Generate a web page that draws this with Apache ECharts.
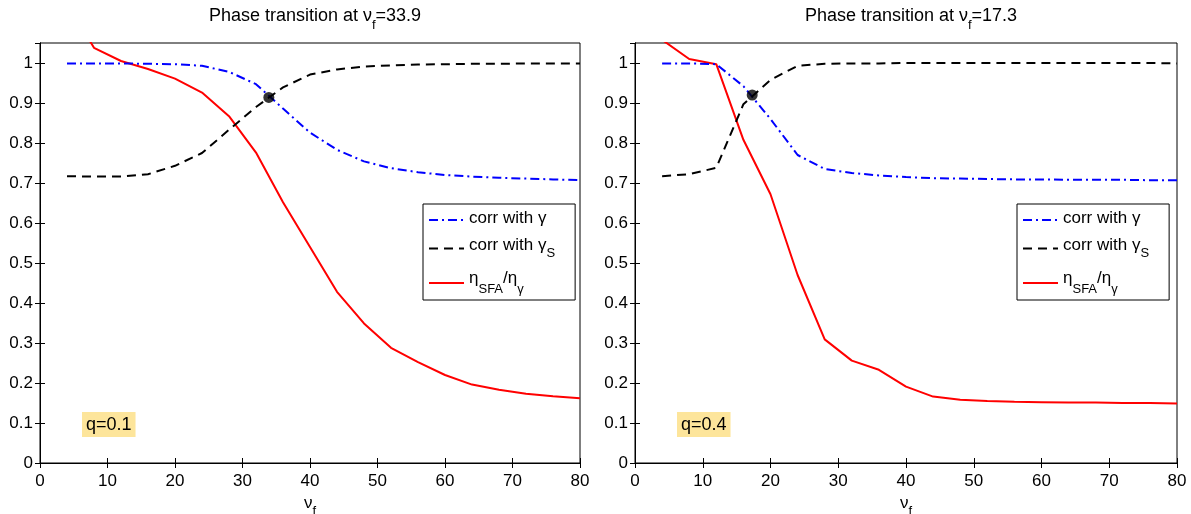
<!DOCTYPE html>
<html>
<head>
<meta charset="utf-8">
<script src="https://cdn.jsdelivr.net/npm/echarts@6/dist/echarts.min.js"></script>
<style>
  html, body { margin: 0; padding: 0; background: #fff; }
  #myChart { width: 1191px; height: 514px; }
</style>
</head>
<body>
<div id="myChart"></div>
<script>
// x values (nu_f)
var nuF = [4, 8, 12, 16, 20, 24, 28, 32, 36, 40, 44, 48, 52, 56, 60, 64, 68, 72, 76, 80];

// q = 0.1 (left)
var corrGammaQ1 = [0.999, 0.999, 0.999, 0.998, 0.997, 0.993, 0.978, 0.947, 0.886, 0.826, 0.783, 0.754, 0.737, 0.727, 0.720, 0.716, 0.713, 0.711, 0.709, 0.707];
var corrGammaSQ1 = [0.717, 0.716, 0.716, 0.722, 0.743, 0.775, 0.833, 0.890, 0.939, 0.971, 0.984, 0.991, 0.994, 0.996, 0.997, 0.998, 0.998, 0.999, 0.999, 0.999];
var etaRatioQ1 = [1.15, 1.038, 1.005, 0.985, 0.961, 0.926, 0.867, 0.776, 0.652, 0.540, 0.428, 0.349, 0.288, 0.252, 0.220, 0.196, 0.183, 0.173, 0.167, 0.162];

// q = 0.4 (right)
var corrGammaQ4 = [0.999, 0.999, 0.997, 0.942, 0.860, 0.770, 0.735, 0.725, 0.719, 0.715, 0.712, 0.711, 0.710, 0.709, 0.709, 0.708, 0.708, 0.708, 0.707, 0.707];
var corrGammaSQ4 = [0.717, 0.722, 0.738, 0.897, 0.958, 0.993, 0.998, 0.999, 0.999, 1.0, 1.0, 1.0, 1.0, 1.0, 1.0, 1.0, 1.0, 1.0, 1.0, 0.999];
var etaRatioQ4 = [1.058, 1.010, 0.997, 0.808, 0.672, 0.470, 0.309, 0.256, 0.233, 0.191, 0.166, 0.158, 0.155, 0.153, 0.152, 0.151, 0.151, 0.150, 0.150, 0.149];

// phase transition points
var transitionNu = [33.9, 17.3];
var transitionCorr = [0.914, 0.920];

var qLabels = ['q=0.1', 'q=0.4'];
var seriesNames = ['corr with γ', 'corr with γS', 'ηSFA/ηγ'];
var legendText = {
  'corr with γ': '{m|corr with γ}',
  'corr with γS': '{m|corr with γ}{s|S}',
  'ηSFA/ηγ': '{m|η}{s2|SFA}{m|/η}{s2|γ}'
};

var font = 'Liberation Sans, Arial, Helvetica, sans-serif';
// main text sits at the top of the line, subscript at the bottom of a slightly taller line
var mainStyle = { fontSize: 17, fontFamily: font, color: '#000', lineHeight: 20, verticalAlign: 'top' };
var subStyle = { fontSize: 13, fontFamily: font, color: '#000', lineHeight: 23, verticalAlign: 'bottom' };
var subStyle2 = { fontSize: 13, fontFamily: font, color: '#000', lineHeight: 26, verticalAlign: 'bottom' };

function pairs(xs, ys) {
  return xs.map(function (x, i) { return [x, ys[i]]; });
}

var grids = [
  { left: 40, top: 43, width: 540, height: 420 },
  { left: 635, top: 43, width: 542, height: 420 }
];
var legendLeft = [423, 1017];

var xAxes = [], yAxes = [], series = [], titles = [], legends = [], graphics = [];

[0, 1].forEach(function (g) {
  var tickStyle = { show: true, inside: true, length: 5, lineStyle: { color: '#000' } };
  xAxes[g] = {
    gridIndex: g, type: 'value', min: 0, max: 80, interval: 10, position: 'bottom',
    name: '{m|ν}{s|f}', nameLocation: 'middle', nameGap: 29,
    nameTextStyle: { fontSize: 17, fontFamily: font, color: '#000', rich: { m: mainStyle, s: subStyle } },
    axisLine: { lineStyle: { color: '#000' } }, axisTick: tickStyle,
    axisLabel: { color: '#000', fontSize: 17, fontFamily: font, margin: 10 },
    splitLine: { show: false }
  };
  xAxes[g + 2] = {
    gridIndex: g, type: 'value', min: 0, max: 80, interval: 10, position: 'top',
    axisLine: { lineStyle: { color: '#000' } }, axisTick: tickStyle,
    axisLabel: { show: false }, splitLine: { show: false }
  };
  yAxes[g] = {
    gridIndex: g, type: 'value', min: 0, max: 1.05, interval: 0.1, position: 'left',
    axisLine: { lineStyle: { color: '#000' } }, axisTick: tickStyle,
    axisLabel: { color: '#000', fontSize: 17, fontFamily: font, margin: 7, showMaxLabel: false },
    splitLine: { show: false }
  };
  yAxes[g + 2] = {
    gridIndex: g, type: 'value', min: 0, max: 1.05, interval: 0.1, position: 'right',
    axisLine: { lineStyle: { color: '#000' } }, axisTick: tickStyle,
    axisLabel: { show: false }, splitLine: { show: false }
  };

  var corr = g === 0 ? corrGammaQ1 : corrGammaQ4;
  var corrS = g === 0 ? corrGammaSQ1 : corrGammaSQ4;
  var eta = g === 0 ? etaRatioQ1 : etaRatioQ4;

  series.push({
    name: seriesNames[0], type: 'line', xAxisIndex: g, yAxisIndex: g,
    data: pairs(nuF, corr), symbol: 'none', clip: true, z: 3,
    lineStyle: { color: '#0000ff', width: 2, type: [9, 4, 2, 4] }, itemStyle: { color: '#0000ff' }
  });
  series.push({
    name: seriesNames[1], type: 'line', xAxisIndex: g, yAxisIndex: g,
    data: pairs(nuF, corrS), symbol: 'none', clip: true, z: 3,
    lineStyle: { color: '#000', width: 2, type: [9, 6] }, itemStyle: { color: '#000' }
  });
  series.push({
    name: seriesNames[2], type: 'line', xAxisIndex: g, yAxisIndex: g,
    data: pairs(nuF, eta), symbol: 'none', clip: true, z: 2,
    lineStyle: { color: '#ff0000', width: 2, type: 'solid' }, itemStyle: { color: '#ff0000' }
  });
  series.push({
    name: 'transition', type: 'scatter', xAxisIndex: g, yAxisIndex: g,
    data: [[transitionNu[g], transitionCorr[g]]], symbol: 'circle', symbolSize: 11, z: 5,
    itemStyle: { color: '#000' }
  });

  titles.push({
    text: '{m|Phase transition at ν}{s|f}{m|=' + transitionNu[g] + '}',
    left: grids[g].left + grids[g].width / 2, textAlign: 'center', top: 2,
    textStyle: { fontSize: 18, fontWeight: 'normal', fontFamily: font, color: '#000',
      rich: {
        m: { fontSize: 18, fontFamily: font, color: '#000', lineHeight: 20, verticalAlign: 'top' },
        s: { fontSize: 13, fontFamily: font, color: '#000', lineHeight: 25, verticalAlign: 'bottom' }
      } }
  });

  legends.push({
    data: seriesNames, orient: 'vertical', selectedMode: false,
    left: legendLeft[g], top: 204,
    itemWidth: 35, itemHeight: 14, itemGap: 10,
    padding: [6, 20, 4, 5], borderColor: '#000', borderWidth: 1, backgroundColor: '#fff',
    itemStyle: { opacity: 0 },
    lineStyle: { opacity: 1 },
    formatter: function (name) { return legendText[name]; },
    textStyle: { fontSize: 17, fontFamily: font, color: '#000', rich: { m: mainStyle, s: subStyle, s2: subStyle2 } }
  });

  graphics.push({
    type: 'text', left: grids[g].left + 42, top: 412, z: 10,
    style: { text: qLabels[g], fontSize: 18, fontFamily: font, fill: '#000',
      backgroundColor: '#fde59b', padding: [4, 4, 3, 4] }
  });
});

var myChart = echarts.init(document.getElementById('myChart'), null, { renderer: 'canvas' });

var option = {
  animation: false,
  backgroundColor: '#fff',
  title: titles,
  legend: legends,
  grid: grids.map(function (gr) {
    return {
      left: gr.left, top: gr.top, width: gr.width, height: gr.height, outerBoundsMode: 'none',
      show: true, borderColor: '#000', borderWidth: 1, backgroundColor: 'transparent'
    };
  }),
  xAxis: xAxes,
  yAxis: yAxes,
  series: series,
  graphic: graphics
};

myChart.setOption(option);
</script>
</body>
</html>
